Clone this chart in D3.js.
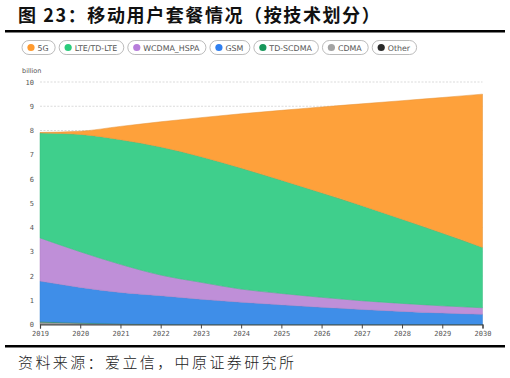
<!DOCTYPE html>
<html><head><meta charset="utf-8">
<script src="https://cdn.jsdelivr.net/npm/d3@7"></script>
<style>body{margin:0;background:#fff}svg{display:block}</style>
</head><body>
<svg id="c" width="510" height="378"></svg>
<script>
const years = ["2019","2020","2021","2022","2023","2024","2025","2026","2027","2028","2029","2030"];
const seriesNames = ["5G","LTE/TD-LTE","WCDMA_HSPA","GSM","TD-SCDMA","CDMA","Other"];
const s5G      = [0.02,0.13,0.55,1.04,1.61,2.24,2.88,3.54,4.20,4.89,5.59,6.32];
const sLTE     = [4.33,4.84,5.14,5.28,5.18,4.99,4.67,4.31,3.92,3.47,3.00,2.49];
const sWCDMA   = [1.78,1.47,1.16,0.85,0.70,0.54,0.47,0.41,0.36,0.33,0.30,0.27];
const sGSM     = [1.67,1.46,1.29,1.18,1.04,0.92,0.81,0.71,0.62,0.54,0.47,0.42];
const sTDSCDMA = [0.02,0.01,0,0,0,0,0,0,0,0,0,0];
const sCDMA    = [0.10,0.06,0.03,0.01,0,0,0,0,0,0,0,0];
const sOther   = [0,0,0,0,0,0,0,0,0,0,0,0];
const yTicks = [0,1,2,3,4,5,6,7,8,9,10];
const titleText = "图 23：移动用户套餐情况（按技术划分）";
const sourceText = "资料来源：爱立信，中原证券研究所";
const unitText = "billion";

const dotColors = {"5G":"#ff9a2e","LTE/TD-LTE":"#2bcc7c","WCDMA_HSPA":"#b77ddb","GSM":"#2f7ff0","TD-SCDMA":"#17975a","CDMA":"#a3a3a3","Other":"#2a2a2a"};
const areaColors = {"5G":"#fea13b","LTE/TD-LTE":"#3fcf8c","WCDMA_HSPA":"#bf8fd8","GSM":"#3f8ee8","TD-SCDMA":"#1f9d62","CDMA":"#9b9b9b","Other":"#333"};

const arrs = [s5G,sLTE,sWCDMA,sGSM,sTDSCDMA,sCDMA,sOther];
const table = years.map((y,i)=>{const o={year:y};seriesNames.forEach((n,k)=>o[n]=arrs[k][i]);return o;});

const svg = d3.select("#c");
// title
svg.append("text").attr("x",18).attr("y",22).attr("font-family","'Noto Sans CJK SC'").attr("font-weight","bold")
  .attr("font-size",18).attr("letter-spacing",1.6).attr("fill","#111").text(titleText);
svg.append("rect").attr("x",5).attr("y",30).attr("width",500).attr("height",2.5).attr("fill","#000");
svg.append("rect").attr("x",5).attr("y",345).attr("width",500).attr("height",2.5).attr("fill","#000");
svg.append("text").attr("x",18).attr("y",368).attr("font-family","'Noto Sans CJK SC'").attr("font-weight","300")
  .attr("font-size",15).attr("letter-spacing",2.4).attr("fill","#222").text(sourceText);

// legend
const legend = svg.append("g").attr("font-family","'DejaVu Sans'").attr("font-size",7.9);
let lx = 22;
seriesNames.forEach(n=>{
  const g = legend.append("g");
  const t = g.append("text").attr("x",lx+15.5).attr("y",50.6).attr("fill","#555").text(n);
  const w = t.node().getComputedTextLength()+22;
  g.insert("rect","text").attr("x",lx).attr("y",40.5).attr("width",w).attr("height",14).attr("rx",7)
   .attr("fill","#fff").attr("stroke","#aaa").attr("stroke-width",0.8);
  g.append("circle").attr("cx",lx+9).attr("cy",47.5).attr("r",3.6).attr("fill",dotColors[n]);
  lx += w + 4;
});

const x = d3.scalePoint().domain(years).range([40,482.5]);
const y = d3.scaleLinear().domain([0,10]).range([324.5,82]);

svg.append("text").attr("x",22).attr("y",73).attr("font-family","'DejaVu Sans'").attr("font-size",6.5).attr("fill","#555").text(unitText);

// grid
svg.append("g").selectAll("line").data(yTicks.filter(d=>d>0)).join("line")
  .attr("x1",40).attr("x2",482.5).attr("y1",d=>y(d)).attr("y2",d=>y(d))
  .attr("stroke","#ccc").attr("stroke-width",0.7).attr("stroke-dasharray","2,1.5");

const stackOrder = seriesNames.slice().reverse();
const stack = d3.stack().keys(stackOrder)(table);
const area = d3.area().x((d,i)=>x(years[i])).y0(d=>y(d[0])).y1(d=>y(d[1])).curve(d3.curveMonotoneX);
svg.append("g").selectAll("path").data(stack).join("path")
  .attr("d",area).attr("fill",d=>areaColors[d.key]).attr("stroke",d=>d3.color(areaColors[d.key]).darker(0.3)).attr("stroke-width",0.5);

// y axis labels
svg.append("g").selectAll("text").data(yTicks).join("text")
  .attr("x",34).attr("y",d=>y(d)+2.5).attr("text-anchor","end")
  .attr("font-family","'DejaVu Sans Mono'").attr("font-size",7).attr("fill","#555").text(d=>d);

// x axis
const xa = svg.append("g").attr("transform","translate(0,324.5)")
  .call(d3.axisBottom(x).tickSize(4).tickPadding(3));
xa.select(".domain").attr("stroke","#444").attr("stroke-width",1.2);
xa.selectAll(".tick line").attr("stroke","#444");
xa.selectAll("text").attr("font-family","'DejaVu Sans Mono'").attr("font-size",7).attr("fill","#555");
</script>
</body></html>
